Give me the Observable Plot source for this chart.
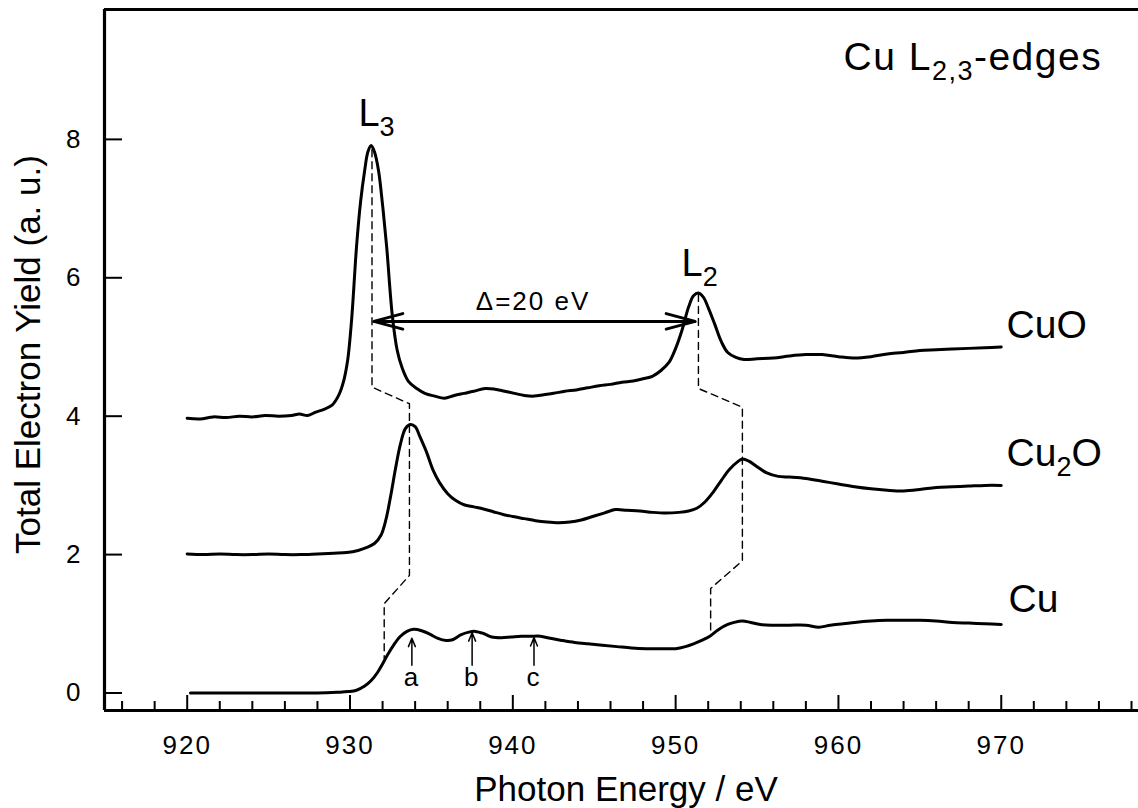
<!DOCTYPE html>
<html>
<head>
<meta charset="utf-8">
<script src="https://cdn.jsdelivr.net/npm/d3@7"></script>
<script src="https://cdn.jsdelivr.net/npm/@observablehq/plot@0.6"></script>
<style>
  html, body { margin: 0; padding: 0; background: #fff; overflow: hidden; }
  svg { display: block; }
  g[aria-label="x-axis tick label"] text,
  g[aria-label="y-axis tick label"] text,
  text[aria-label="small-text"] { letter-spacing: 2px; }
  text[aria-label="title-text"] { letter-spacing: 1.5px; }
</style>
</head>
<body>
<div id="chart"></div>
<script>
// ---- data (energy in eV, yield in a.u.) ----
const cuoE = [920.0,920.8,921.6,922.4,923.2,924.0,924.8,925.6,926.4,926.9,927.4,927.9,928.4,928.9,929.3,929.6,929.85,930.1,930.4,930.65,930.9,931.1,931.3,931.5,931.75,932.0,932.25,932.6,932.9,933.2,933.6,934.1,934.6,935.2,935.8,936.4,937.0,937.6,938.3,938.9,939.5,940.1,940.7,941.3,941.9,942.5,943.2,943.9,944.6,945.3,946.0,946.7,947.4,948.0,948.6,949.1,949.6,950.0,950.4,950.8,951.1,951.4,951.7,952.0,952.4,952.8,953.2,953.7,954.2,955.0,956.0,957.0,958.0,959.0,960.0,961.0,962.0,963.0,964.0,965.0,966.0,967.0,968.0,969.0,970.0];
const cuoY = [3.97,3.96,3.99,3.98,4.00,3.99,4.01,4.00,4.01,4.03,4.01,4.06,4.10,4.16,4.30,4.50,4.80,5.40,6.45,7.10,7.55,7.82,7.91,7.82,7.55,7.05,6.45,5.45,4.95,4.70,4.50,4.40,4.33,4.29,4.26,4.30,4.33,4.36,4.40,4.39,4.36,4.33,4.30,4.29,4.31,4.33,4.36,4.38,4.41,4.44,4.46,4.49,4.51,4.54,4.58,4.66,4.78,4.98,5.25,5.58,5.74,5.78,5.72,5.57,5.33,5.08,4.92,4.85,4.82,4.83,4.84,4.87,4.89,4.89,4.86,4.84,4.86,4.90,4.92,4.95,4.96,4.97,4.98,4.99,5.00];

const cu2oE = [920.0,921.0,922.0,923.0,924.0,925.0,926.0,927.0,928.0,929.0,929.8,930.5,931.0,931.5,931.9,932.2,932.5,932.8,933.1,933.4,933.7,934.0,934.3,934.7,935.1,935.5,936.0,936.5,937.0,937.6,938.2,938.8,939.4,940.0,940.7,941.4,942.1,942.8,943.5,944.2,944.9,945.6,946.3,947.0,947.8,948.6,949.4,950.2,950.8,951.3,951.8,952.3,952.8,953.3,953.8,954.1,954.5,955.0,955.6,956.3,957.0,958.0,959.0,960.0,961.0,962.0,963.0,964.0,965.0,966.0,967.0,968.0,969.0,970.0];
const cu2oY = [2.01,2.00,2.01,2.00,2.00,2.01,2.00,2.00,2.01,2.02,2.03,2.06,2.10,2.16,2.28,2.50,2.85,3.25,3.60,3.82,3.88,3.85,3.70,3.48,3.22,3.04,2.88,2.78,2.72,2.69,2.66,2.62,2.58,2.55,2.52,2.49,2.47,2.46,2.47,2.50,2.55,2.60,2.65,2.64,2.63,2.61,2.60,2.61,2.63,2.67,2.76,2.90,3.07,3.23,3.34,3.38,3.35,3.27,3.18,3.13,3.12,3.10,3.06,3.02,2.98,2.95,2.93,2.92,2.94,2.97,2.98,2.99,3.00,3.00];

const cuE = [920.2,922.0,924.0,926.0,928.0,929.2,929.9,930.4,930.9,931.3,931.7,932.0,932.3,932.7,933.1,933.5,933.9,934.4,934.9,935.4,935.9,936.3,936.8,937.3,937.7,938.2,938.7,939.3,939.9,940.5,941.1,941.7,942.3,943.0,943.8,944.6,945.5,946.4,947.3,948.2,949.2,950.0,950.6,951.1,951.6,952.1,952.6,953.1,953.6,954.1,954.6,955.2,956.0,957.0,958.0,958.8,959.5,960.3,961.0,962.0,963.0,964.0,965.0,966.0,967.0,968.0,969.0,970.0];
const cuY = [0.00,0.00,0.00,0.00,0.00,0.01,0.02,0.04,0.10,0.18,0.30,0.42,0.55,0.70,0.82,0.89,0.92,0.90,0.85,0.79,0.76,0.77,0.84,0.88,0.89,0.86,0.81,0.80,0.81,0.82,0.82,0.82,0.79,0.76,0.73,0.71,0.69,0.67,0.65,0.64,0.64,0.64,0.67,0.71,0.76,0.82,0.91,0.98,1.02,1.04,1.02,0.99,0.98,0.98,0.98,0.95,0.98,1.00,1.02,1.04,1.05,1.05,1.05,1.04,1.02,1.01,1.00,0.99];

// dashed peak-tracking guides
const guideL3E = [931.35, 931.35, 933.65, 933.65, 932.1, 932.1];
const guideL3Y = [7.85, 4.42, 4.18, 1.70, 1.29, 0.50];
const guideL2E = [951.4, 951.4, 954.1, 954.1, 952.15, 952.15];
const guideL2Y = [5.76, 4.40, 4.13, 1.91, 1.51, 0.85];

// Δ = 20 eV double arrow
const deltaFrom = 931.46, deltaTo = 951.2, deltaLevel = 5.37;
const deltaText = "Δ=20 eV";
const deltaTextE = 941.24, deltaTextY = 5.53;

// features a, b, c of Cu
const featureNames = ["a", "b", "c"];
const featureE = [933.8, 937.5, 941.3];
const featureTip = [0.79, 0.87, 0.80];
const featureTail = 0.40;
const featureLabelY = 0.10;

// curve / annotation labels
const labelText = ["CuO", "Cu_{2}O", "Cu"];
const labelE = [970.33, 970.33, 970.45];
const labelY = [5.136, 3.273, 1.168];
const titleText = "Cu L_{2,3}-edges";
const titleE = 960.31, titleY = 8.996;
const edgeText = ["L_{3}", "L_{2}"];
const edgeE = [930.52, 950.36];
const edgeY = [8.20, 6.03];

// axes
const xDomain = [914.92, 978.43];
const yDomain = [-0.253, 9.877];
const xMajor = [920, 930, 940, 950, 960, 970];
const xMinor = [916, 918, 922, 924, 926, 928, 932, 934, 936, 938, 942, 944, 946, 948, 952, 954, 956, 958, 962, 964, 966, 968, 972, 974, 976, 978];
const yMajor = [0, 2, 4, 6, 8];
const xLabel = "Photon Energy / eV";
const yLabel = "Total Electron Yield (a. u.)";

// ---- build tables ----
const zip = (E, Y) => E.map((e, i) => ({e, v: Y[i]}));
const cuo = zip(cuoE, cuoY), cu2o = zip(cu2oE, cu2oY), cu = zip(cuE, cuY);
const gL3 = zip(guideL3E, guideL3Y), gL2 = zip(guideL2E, guideL2Y);
const deltaMid = (deltaFrom + deltaTo) / 2;
const deltaArrows = [
  {x1: deltaMid, x2: deltaFrom, y: deltaLevel},
  {x1: deltaMid, x2: deltaTo, y: deltaLevel}
];
const features = featureNames.map((n, i) => ({n, e: featureE[i], tip: featureTip[i], tail: featureTail, ly: featureLabelY}));
const labels = labelText.map((t, i) => ({t, e: labelE[i], v: labelY[i]}));
const edges = edgeText.map((t, i) => ({t, e: edgeE[i], v: edgeY[i]}));

const chart = Plot.plot({
  width: 1138,
  height: 808,
  marginLeft: 104,
  marginRight: 0,
  marginTop: 9,
  marginBottom: 98,
  style: {fontFamily: "'Liberation Sans', Arial, sans-serif", fontSize: "26px", background: "white", color: "black"},
  x: {domain: xDomain},
  y: {domain: yDomain},
  marks: [
    // frame (no right side visible)
    Plot.ruleY([yDomain[0], yDomain[1]], {stroke: "black", strokeWidth: 3.2}),
    Plot.ruleX([xDomain[0]], {stroke: "black", strokeWidth: 3.2}),
    // ticks pointing inward
    Plot.axisX(xMinor, {tickSize: -9, strokeWidth: 2, text: null, label: null}),
    Plot.axisX(xMajor, {tickSize: -15, strokeWidth: 2, text: null, label: null}),
    Plot.axisX(xMajor, {tickSize: 0, tickPadding: 25, fontSize: 26, label: null, tickFormat: d => String(d)}),
    Plot.axisY(yMajor, {tickSize: -18, strokeWidth: 2, text: null, label: null}),
    Plot.axisY(yMajor, {tickSize: 0, tickPadding: 22, fontSize: 26, label: null, tickFormat: d => String(d)}),
    // axis titles
    Plot.text([xLabel], {text: d => d, frameAnchor: "bottom", dy: 90, dx: 4.5, lineAnchor: "bottom", fontSize: 35}),
    Plot.text([yLabel], {text: d => d, frameAnchor: "left", rotate: -90, dx: -65, dy: -5.5, lineAnchor: "bottom", textAnchor: "middle", fontSize: 35}),
    // dashed guides
    Plot.line(gL3, {x: "e", y: "v", stroke: "black", strokeWidth: 1.4, strokeDasharray: "7,5"}),
    Plot.line(gL2, {x: "e", y: "v", stroke: "black", strokeWidth: 1.4, strokeDasharray: "7,5"}),
    // spectra
    Plot.line(cuo, {x: "e", y: "v", stroke: "black", strokeWidth: 3, curve: "catmull-rom"}),
    Plot.line(cu2o, {x: "e", y: "v", stroke: "black", strokeWidth: 3, curve: "catmull-rom"}),
    Plot.line(cu, {x: "e", y: "v", stroke: "black", strokeWidth: 3, curve: "catmull-rom"}),
    // Δ arrow
    Plot.arrow(deltaArrows, {x1: "x1", x2: "x2", y1: "y", y2: "y", stroke: "black", strokeWidth: 3, headLength: 15, headAngle: 30}),
    Plot.text([deltaText], {text: d => d, x: () => deltaTextE, y: () => deltaTextY, lineAnchor: "bottom", textAnchor: "middle", fontSize: 26, ariaLabel: () => "small-text"}),
    // feature arrows a, b, c
    Plot.arrow(features, {x1: "e", x2: "e", y1: "tail", y2: "tip", stroke: "black", strokeWidth: 1.5, headLength: 9, headAngle: 45}),
    Plot.text(features, {x: "e", y: "ly", text: "n", lineAnchor: "bottom", textAnchor: "middle", fontSize: 26, ariaLabel: () => "small-text"}),
    // labels
    Plot.text(labels, {x: "e", y: "v", text: "t", textAnchor: "start", lineAnchor: "bottom", fontSize: 39}),
    Plot.text([titleText], {text: d => d, x: () => titleE, y: () => titleY, textAnchor: "start", lineAnchor: "bottom", fontSize: 39, ariaLabel: () => "title-text"}),
    Plot.text(edges, {x: "e", y: "v", text: "t", textAnchor: "start", lineAnchor: "bottom", fontSize: 38})
  ]
});

// render "_{...}" as subscripts using tspans
chart.querySelectorAll("text").forEach(t => {
  const s = t.textContent;
  if (!s.includes("_{")) return;
  const fs = parseFloat(t.getAttribute("font-size")) || parseFloat(t.parentNode.getAttribute("font-size")) || 38;
  const subSize = Math.round(fs * 0.7);
  const shift = Math.round(fs * 0.25);
  while (t.firstChild) t.removeChild(t.firstChild);
  const re = /_\{([^}]*)\}/g;
  let last = 0, m, pendingUp = false;
  const add = (str, attrs) => {
    const ts = document.createElementNS("http://www.w3.org/2000/svg", "tspan");
    for (const k in attrs) ts.setAttribute(k, attrs[k]);
    ts.textContent = str;
    t.appendChild(ts);
  };
  while ((m = re.exec(s))) {
    if (m.index > last) { add(s.slice(last, m.index), pendingUp ? {dy: -shift} : {}); pendingUp = false; }
    add(m[1], {dy: pendingUp ? 0 : shift, "font-size": subSize});
    pendingUp = true;
    last = re.lastIndex;
  }
  if (last < s.length) add(s.slice(last), pendingUp ? {dy: -shift} : {});
});

document.getElementById("chart").appendChild(chart);
</script>
</body>
</html>
